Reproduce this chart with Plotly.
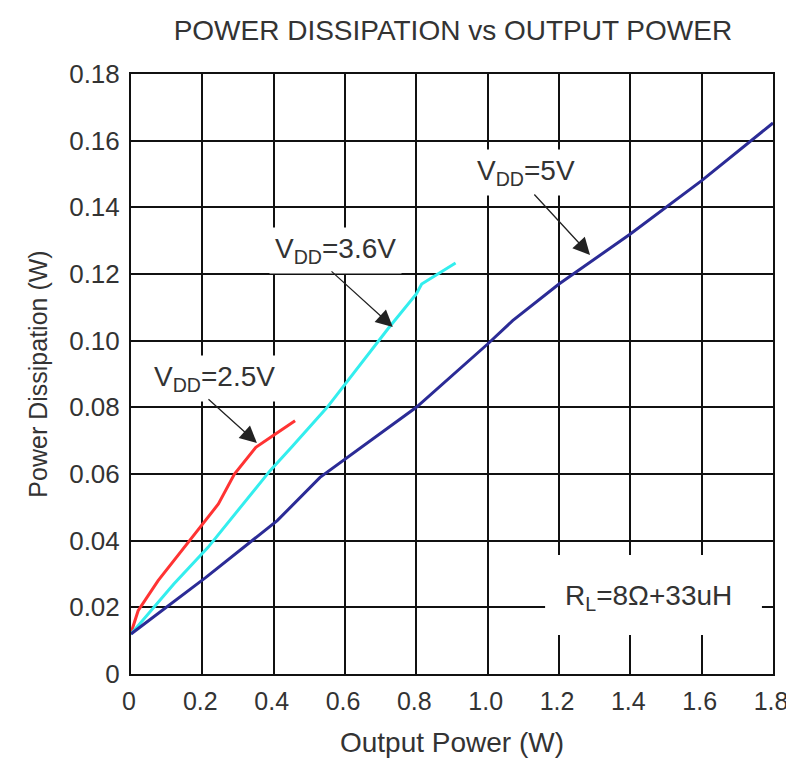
import plotly.graph_objects as go

# Data
x_25 = [0, 0.02, 0.076, 0.15, 0.21, 0.245, 0.29, 0.35, 0.405, 0.46]
y_25 = [0.0123, 0.019, 0.028, 0.038, 0.046, 0.051, 0.060, 0.068, 0.072, 0.076]

x_36 = [0, 0.045, 0.12, 0.216, 0.39, 0.45, 0.52, 0.55, 0.72, 0.80, 0.815, 0.91]
y_36 = [0.012, 0.0177, 0.027, 0.038, 0.061, 0.068, 0.0765, 0.080, 0.1035, 0.114, 0.117, 0.1233]

x_5 = [0, 0.10, 0.21, 0.41, 0.53, 0.8, 1.0, 1.07, 1.2, 1.4, 1.6, 1.8]
y_5 = [0.012, 0.020, 0.029, 0.046, 0.059, 0.080, 0.099, 0.106, 0.117, 0.132, 0.148, 0.1653]

x_ticks = [0, 0.2, 0.4, 0.6, 0.8, 1.0, 1.2, 1.4, 1.6, 1.8]
x_ticklabels = ["0", "0.2", "0.4", "0.6", "0.8", "1.0", "1.2", "1.4", "1.6", "1.8"]
y_ticks = [0, 0.02, 0.04, 0.06, 0.08, 0.10, 0.12, 0.14, 0.16, 0.18]
y_ticklabels = ["0", "0.02", "0.04", "0.06", "0.08", "0.10", "0.12", "0.14", "0.16", "0.18"]

FONT = "Liberation Sans, Arial, sans-serif"
TXT = "#333333"

fig = go.Figure()
fig.add_trace(go.Scatter(x=x_25, y=y_25, mode="lines", line=dict(color="#ff3333", width=3), showlegend=False))
fig.add_trace(go.Scatter(x=x_36, y=y_36, mode="lines", line=dict(color="#33eeee", width=3), showlegend=False))
fig.add_trace(go.Scatter(x=x_5, y=y_5, mode="lines", line=dict(color="#2b2b96", width=3), showlegend=False))

annots = []
labels = [
    ("V<sub>DD</sub>=2.5V", 0.235, 0.0888, 0.213, 0.0828, 0.353, 0.0693),
    ("V<sub>DD</sub>=3.6V", 0.572, 0.1272, 0.558, 0.1212, 0.734, 0.1041),
    ("V<sub>DD</sub>=5V", 1.107, 0.1506, 1.127, 0.1443, 1.287, 0.1257),
]
for text, tx, ty, ax0, ay0, hx, hy in labels:
    annots.append(dict(x=tx, y=ty, xref="x", yref="y", text=text, showarrow=False,
                       font=dict(family=FONT, size=28, color=TXT), bgcolor="white", borderpad=5))
    annots.append(dict(x=hx, y=hy, ax=ax0, ay=ay0, xref="x", yref="y", axref="x", ayref="y",
                       text="", showarrow=True, arrowhead=2, arrowsize=2.6, arrowwidth=1.3,
                       arrowcolor="#222222", standoff=0))
annots.append(dict(x=1.452, y=0.0231, xref="x", yref="y", text="R<sub>L</sub>=8Ω+33uH",
                   showarrow=False, font=dict(family=FONT, size=28, color=TXT)))

# The page body adds an 8px margin, so the figure is 8px smaller on each side
fig.update_layout(
    width=786, height=768,
    margin=dict(l=123, r=21, t=66, b=102),
    paper_bgcolor="white", plot_bgcolor="white",
    title=dict(text="POWER DISSIPATION vs OUTPUT POWER", x=0.566, xanchor="center", y=0.971, yanchor="middle",
               font=dict(family=FONT, size=28, color=TXT)),
    annotations=annots,
    shapes=[dict(type="rect", xref="x", yref="y", x0=1.161, x1=1.769, y0=0.0117, y1=0.0357,
                 fillcolor="white", line=dict(width=0), layer="above")],
    xaxis=dict(range=[0, 1.8], tickvals=x_ticks, ticktext=x_ticklabels, showgrid=True,
               gridcolor="#111111", gridwidth=2, zeroline=False, showline=True, linecolor="#111111",
               linewidth=2, mirror=True, ticks="", automargin=False, ticklabelstandoff=4,
               ticklabelshift=-2,
               tickfont=dict(family=FONT, size=25, color=TXT),
               title=dict(text="Output Power (W)", font=dict(family=FONT, size=28, color=TXT), standoff=18)),
    yaxis=dict(range=[0, 0.18], tickvals=y_ticks, ticktext=y_ticklabels, showgrid=True,
               gridcolor="#111111", gridwidth=2, zeroline=False, showline=True, linecolor="#111111",
               linewidth=2, mirror=True, ticks="", automargin=False, ticklabelstandoff=4,
               tickfont=dict(family=FONT, size=26, color=TXT),
               title=dict(text="Power Dissipation (W)", font=dict(family=FONT, size=25, color=TXT), standoff=14)),
)

fig.write_html("out.html")
